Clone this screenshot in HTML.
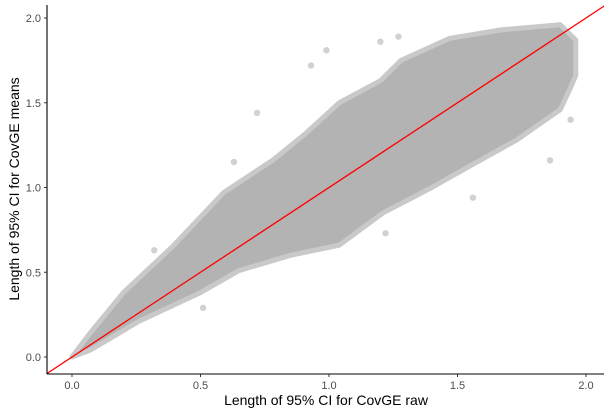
<!DOCTYPE html>
<html><head><meta charset="utf-8"><style>
body{margin:0;background:#fff;}
svg{display:block;font-family:"Liberation Sans",sans-serif;}
</style></head><body>
<svg width="611" height="416">
<g id="marks"></g>
<line x1="47" y1="5" x2="47" y2="374" stroke="#000" stroke-width="1.1"/>
<line x1="47" y1="374" x2="604" y2="374" stroke="#000" stroke-width="1.1"/>
<g id="axes"></g>
<text x="326" y="405" text-anchor="middle" font-size="14" fill="#000">Length of 95% CI for CovGE raw</text>
<text transform="translate(19,189) rotate(-90)" text-anchor="middle" font-size="14" fill="#000">Length of 95% CI for CovGE means</text>
</svg>
<script>
const upperX=[0,0.07,0.2,0.39,0.59,0.78,0.91,1.04,1.2,1.28,1.47,1.67,1.9,1.96,1.96];
const upperY=[0,0.14,0.38,0.65,0.97,1.16,1.32,1.5,1.63,1.75,1.88,1.93,1.96,1.87,1.66];
const lowerX=[0,0.07,0.26,0.5,0.65,0.85,1.04,1.21,1.4,1.54,1.73,1.9,1.94];
const lowerY=[0,0.04,0.21,0.38,0.51,0.6,0.66,0.85,1.0,1.12,1.28,1.46,1.59];
const outX=[0.99,0.93,0.72,0.63,0.32,0.51,1.2,1.27,1.86,1.56,1.22,1.94];
const outY=[1.81,1.72,1.44,1.15,0.63,0.29,1.86,1.89,1.16,0.94,0.73,1.4];
const ticks=[0,0.5,1.0,1.5,2.0];
const tickLabels=["0.0","0.5","1.0","1.5","2.0"];
const lineRange=[-0.1,2.1];
const sx=v=>72+v*257;
const sy=v=>357-v*169.5;
const NS="http://www.w3.org/2000/svg";
const marks=document.getElementById('marks');
let pts=[];
for(let i=0;i<upperX.length;i++)pts.push(sx(upperX[i])+','+sy(upperY[i]));
for(let i=lowerX.length-1;i>=0;i--)pts.push(sx(lowerX[i])+','+sy(lowerY[i]));
const poly=document.createElementNS(NS,'polygon');
poly.setAttribute('points',pts.join(' '));
poly.setAttribute('fill','#b3b3b3');
poly.setAttribute('stroke','#c9c9c9');
poly.setAttribute('stroke-width','5');
poly.setAttribute('stroke-linejoin','round');


marks.appendChild(poly);
outX.forEach((x,i)=>{
 const c=document.createElementNS(NS,'circle');
 c.setAttribute('cx',sx(x));c.setAttribute('cy',sy(outY[i]));c.setAttribute('r',3.2);
 c.setAttribute('fill','#b3b3b3');c.setAttribute('fill-opacity','0.6');
 
 
 marks.appendChild(c);
});
const clip=document.createElementNS(NS,'clipPath');
clip.setAttribute('id','pc');
clip.innerHTML='<rect x="47" y="5" width="557" height="369"/>';
marks.appendChild(clip);
const rl=document.createElementNS(NS,'line');
rl.setAttribute('x1',sx(lineRange[0]));rl.setAttribute('y1',sy(lineRange[0]));
rl.setAttribute('x2',sx(lineRange[1]));rl.setAttribute('y2',sy(lineRange[1]));
rl.setAttribute('stroke','#ff0000');rl.setAttribute('stroke-width','1.3');
rl.setAttribute('clip-path','url(#pc)');


marks.appendChild(rl);
const ax=document.getElementById('axes');
ticks.forEach((t,i)=>{
 const a=document.createElementNS(NS,'line');
 a.setAttribute('x1',sx(t));a.setAttribute('x2',sx(t));a.setAttribute('y1',374);a.setAttribute('y2',377);
 a.setAttribute('stroke','#333');
 
 
 ax.appendChild(a);
 const tx=document.createElementNS(NS,'text');
 tx.setAttribute('x',sx(t));tx.setAttribute('y',389);tx.setAttribute('text-anchor','middle');
 tx.setAttribute('font-size','11');tx.setAttribute('fill','#4d4d4d');tx.textContent=tickLabels[i];
 
 
 ax.appendChild(tx);
 const b=document.createElementNS(NS,'line');
 b.setAttribute('x1',44);b.setAttribute('x2',47);b.setAttribute('y1',sy(t));b.setAttribute('y2',sy(t));
 b.setAttribute('stroke','#333');
 
 
 ax.appendChild(b);
 const ty=document.createElementNS(NS,'text');
 ty.setAttribute('x',41);ty.setAttribute('y',sy(t)+4);ty.setAttribute('text-anchor','end');
 ty.setAttribute('font-size','11');ty.setAttribute('fill','#4d4d4d');ty.textContent=tickLabels[i];
 
 
 ax.appendChild(ty);
});
</script>
</body></html>
